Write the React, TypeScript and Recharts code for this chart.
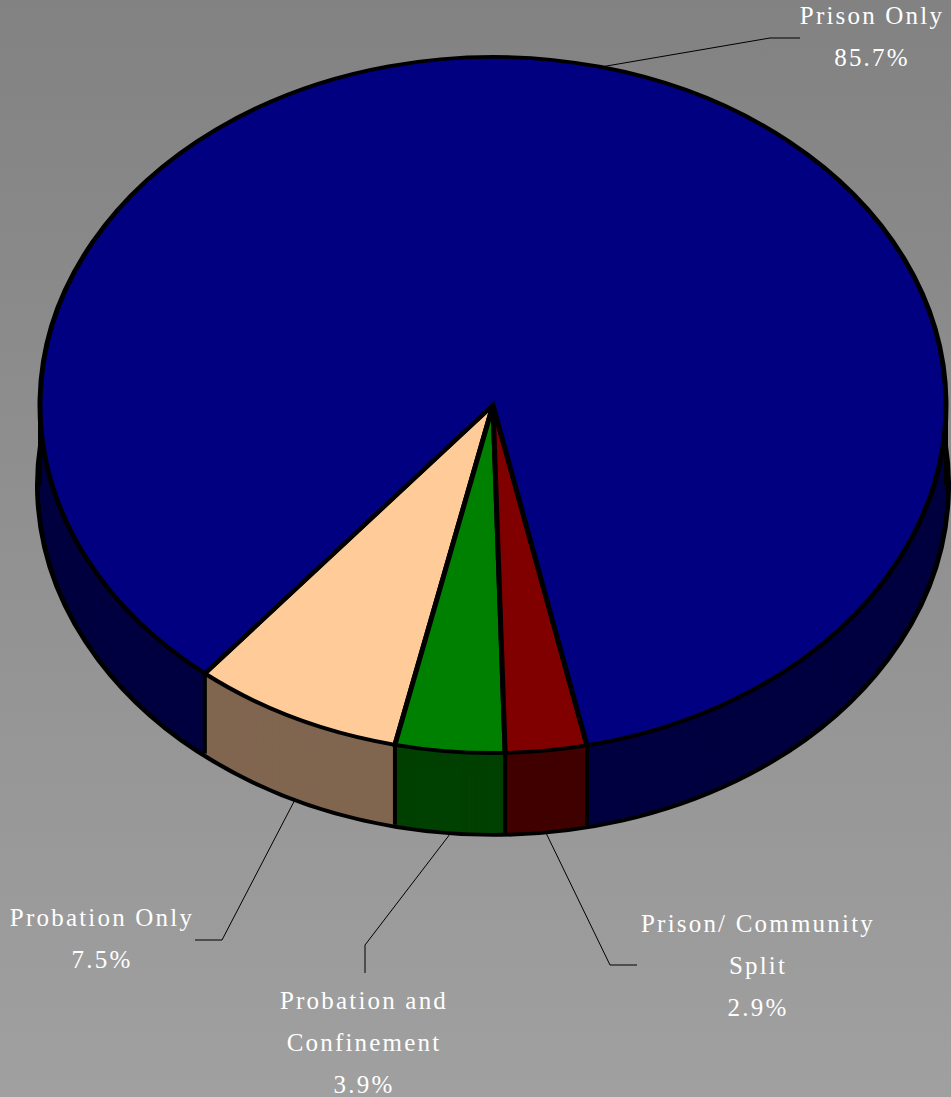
import React from "react";
import { PieChart, Pie, Cell } from "recharts";

// slices, listed counter-clockwise starting from the peach wedge
const categories = ["Probation Only", "Probation and Confinement", "Prison/ Community Split", "Prison Only"];
const shares = [7.5, 3.9, 2.9, 85.7];
const labelLines = [["Probation Only"], ["Probation and", "Confinement"], ["Prison/ Community", "Split"], ["Prison Only"]];
const percentLabels = ["7.5%", "3.9%", "2.9%", "85.7%"];
const topColors = ["#FFCC99", "#008000", "#800000", "#000080"];
const sideColors = ["#806650", "#004000", "#400000", "#000040"];

const W = 951;
const H = 1097;
const CX = 493;
const CY = 405;
const R = 453;
const TILT = 348 / 453; // vertical squash of the pie disc
const DEPTH = 80; // thickness of the disc in screen px
const START = 230.5;

const data = categories.map((name, i) => ({ name, value: shares[i] }));
const ring = [{ name: "rim", value: 1 }];

// where each label sits (leader elbow, leader end, text centre, first baseline)
const LABELS: Record<string, { elbow: [number, number]; end: [number, number]; x: number; y: number }> = {
  "Prison Only": { elbow: [770, 38], end: [800, 38], x: 872, y: 24 },
  "Probation Only": { elbow: [222, 940], end: [195, 940], x: 102, y: 926 },
  "Probation and Confinement": { elbow: [365, 945], end: [365, 973], x: 364, y: 1009 },
  "Prison/ Community Split": { elbow: [610, 965], end: [637, 965], x: 758, y: 932 },
};

const RAD = Math.PI / 180;
const layers: number[] = [];
for (let j = DEPTH; j >= 1; j--) layers.push(j);

const renderLabel = (props: any) => {
  const { cx, cy, outerRadius, midAngle, startAngle, index } = props;
  const pt = (a: number): [number, number] => [
    cx + outerRadius * Math.cos(a * RAD),
    cy - outerRadius * TILT * Math.sin(a * RAD),
  ];
  const name = categories[index];
  const pos = LABELS[name];
  const [sx, sy] = pt(startAngle);
  const front = Math.sin(startAngle * RAD) < 0;
  let [mx, my] = pt(midAngle);
  if (Math.sin(midAngle * RAD) < 0) my += DEPTH + 3;
  const lines = [...labelLines[index], percentLabels[index]];
  return (
    <g key={`lbl-${index}`}>
      {front && <line x1={sx} y1={sy} x2={sx} y2={sy + DEPTH} stroke="#000" strokeWidth={4} />}
      {index === 3 && (
        <>
          <line x1={cx - outerRadius} y1={cy} x2={cx - outerRadius} y2={cy + DEPTH} stroke="#000" strokeWidth={4} />
          <line x1={cx + outerRadius} y1={cy} x2={cx + outerRadius} y2={cy + DEPTH} stroke="#000" strokeWidth={4} />
        </>
      )}
      <polyline
        points={`${mx},${my} ${pos.elbow[0]},${pos.elbow[1]} ${pos.end[0]},${pos.end[1]}`}
        fill="none"
        stroke="#000"
        strokeWidth={1}
      />
      {lines.map((t, k) => (
        <text
          key={k}
          x={pos.x}
          y={pos.y + k * 42}
          textAnchor="middle"
          fill="#fff"
          fontFamily="'Liberation Serif', 'Times New Roman', serif"
          fontSize={25}
          letterSpacing={2.2}
        >
          {t}
        </text>
      ))}
    </g>
  );
};

export default function App() {
  return (
    <div
      style={{
        position: "absolute",
        left: 0,
        top: 0,
        width: W,
        height: H,
        overflow: "hidden",
        background: "linear-gradient(#828282, #a0a0a0)",
      }}
    >
      {/* the disc: drawn round, then squashed into an ellipse */}
      <div
        style={{
          position: "absolute",
          left: 0,
          top: 0,
          transform: `scaleY(${TILT})`,
          transformOrigin: "0 0",
        }}
      >
        <PieChart width={W} height={Math.ceil(H / TILT)} margin={{ top: 0, right: 0, bottom: 0, left: 0 }}>
          {/* bottom rim outline */}
          <Pie
            data={ring}
            dataKey="value"
            cx={CX}
            cy={(CY + DEPTH) / TILT}
            outerRadius={R}
            startAngle={90}
            endAngle={450}
            fill="#000040"
            stroke="#000"
            strokeWidth={10}
            isAnimationActive={false}
          />
          {/* side walls, stacked slices */}
          {layers.map((j) => (
            <Pie
              key={j}
              data={data}
              dataKey="value"
              cx={CX}
              cy={(CY + j) / TILT}
              outerRadius={R}
              startAngle={START}
              endAngle={START + 360}
              stroke="none"
              isAnimationActive={false}
            >
              {data.map((d, i) => (
                <Cell key={d.name} fill={sideColors[i]} stroke="none" />
              ))}
            </Pie>
          ))}
          {/* top face */}
          <Pie
            data={data}
            dataKey="value"
            cx={CX}
            cy={CY / TILT}
            outerRadius={R}
            startAngle={START}
            endAngle={START + 360}
            stroke="#000"
            strokeWidth={5}
            isAnimationActive={false}
          >
            {data.map((d, i) => (
              <Cell key={d.name} fill={topColors[i]} stroke="#000" strokeWidth={5} />
            ))}
          </Pie>
        </PieChart>
      </div>
      {/* labels and side edges, in screen space */}
      <div style={{ position: "absolute", left: 0, top: 0 }}>
        <PieChart width={W} height={H} margin={{ top: 0, right: 0, bottom: 0, left: 0 }}>
          <Pie
            data={data}
            dataKey="value"
            cx={CX}
            cy={CY}
            outerRadius={R}
            startAngle={START}
            endAngle={START + 360}
            fill="none"
            stroke="none"
            labelLine={false}
            label={renderLabel}
            isAnimationActive={false}
          >
            {data.map((d) => (
              <Cell key={d.name} fill="none" stroke="none" />
            ))}
          </Pie>
        </PieChart>
      </div>
    </div>
  );
}
